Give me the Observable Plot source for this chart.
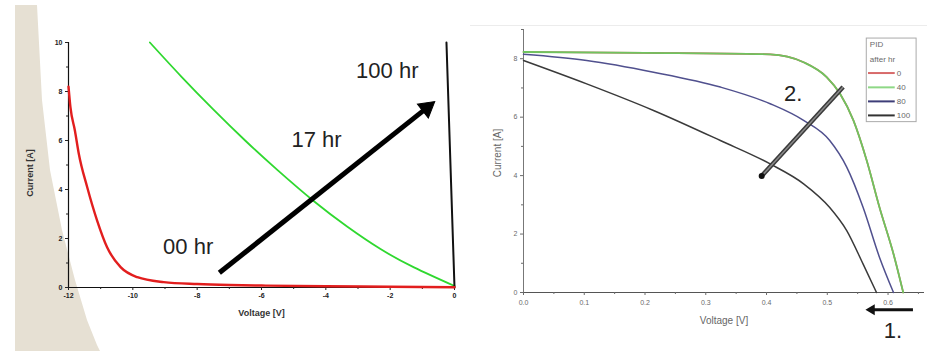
<!DOCTYPE html>
<html>
<head>
<meta charset="utf-8">
<script src="https://cdn.jsdelivr.net/npm/d3@7"></script>
<script src="https://cdn.jsdelivr.net/npm/@observablehq/plot@0.6"></script>
<style>
  html, body { margin: 0; padding: 0; background: #fff; }
  #wrap { position: relative; width: 927px; height: 351px; overflow: hidden; background: #fff; font-family: "Liberation Sans", Arial, sans-serif; }
  #beige { position: absolute; left: 0; top: 0; width: 927px; height: 351px; background: #e6e0d3;
    clip-path: polygon(15px 5px, 37px 5px, 42px 100px, 50px 170px, 62px 230px, 75px 280px, 87px 320px, 97px 345px, 100px 351px, 15px 351px); }
  #topline { position: absolute; left: 470px; top: 25px; width: 457px; height: 1px; background: #ececec; }
  #left { position: absolute; left: 0; top: 0; }
  #right { position: absolute; left: 470px; top: 0; }
  svg { overflow: visible; }
</style>
</head>
<body>
<div id="wrap">
  <div id="beige"></div>
  <div id="topline"></div>
  <div id="left"></div>
  <div id="right"></div>
</div>
<script>
// ---------- Left chart data ----------
const leftVoltageTicks = [-12, -10, -8, -6, -4, -2, 0];
const leftVoltageMinor = [-11, -9, -7, -5, -3, -1];
const leftCurrentTicks = [0, 2, 4, 6, 8, 10];
const leftCurrentMinor = [1, 3, 5, 7, 9];

const curve00hr = [
  {V: -12, I: 8.2}, {V: -11.94, I: 7.36}, {V: -11.8, I: 6.4}, {V: -11.68, I: 5.46},
  {V: -11.42, I: 4.1}, {V: -11.11, I: 2.73}, {V: -10.8, I: 1.64}, {V: -10.38, I: 0.83},
  {V: -9.86, I: 0.42}, {V: -9.04, I: 0.22}, {V: -8, I: 0.14}, {V: -7, I: 0.1},
  {V: -6, I: 0.08}, {V: -4, I: 0.05}, {V: -2, I: 0.03}, {V: 0, I: 0.01}
];
const curve17hr = [
  {V: -9.47, I: 10}, {V: -8.5, I: 8.62}, {V: -7.5, I: 7.27}, {V: -6.5, I: 5.99},
  {V: -5.5, I: 4.79}, {V: -4.37, I: 3.52}, {V: -3.34, I: 2.49}, {V: -2.3, I: 1.57},
  {V: -1.26, I: 0.82}, {V: 0, I: 0.06}
];
const curve100hr = [{V: -0.25, I: 10}, {V: 0, I: 0}];

const leftLabels = [
  {text: "00 hr", V: -8.28, I: 1.64},
  {text: "17 hr", V: -4.29, I: 6.04},
  {text: "100 hr", V: -2.09, I: 8.82}
];
const leftArrow = [{V1: -7.31, I1: 0.6, V2: -0.86, I2: 7.33}];
const leftArrowHead = [{V: -0.86, I: 7.33, angle: 51.5}];

// ---------- Right chart data ----------
const rightVoltageTicks = [0, 0.1, 0.2, 0.3, 0.4, 0.5, 0.6];
const rightVoltageMinor = [0.05, 0.15, 0.25, 0.35, 0.45, 0.55, 0.65];
const rightCurrentTicks = [0, 2, 4, 6, 8];
const rightCurrentMinor = [1, 3, 5, 7, 9];

const pid40 = [
  {V: 0, I: 8.23}, {V: 0.2, I: 8.2}, {V: 0.406, I: 8.15}, {V: 0.461, I: 7.88},
  {V: 0.499, I: 7.37}, {V: 0.521, I: 6.8}, {V: 0.543, I: 5.89}, {V: 0.565, I: 4.51},
  {V: 0.586, I: 2.91}, {V: 0.609, I: 1.32}, {V: 0.625, I: 0}
];
const pid0 = pid40.map(d => ({...d}));
const pid80 = [
  {V: 0, I: 8.15}, {V: 0.104, I: 7.94}, {V: 0.214, I: 7.54}, {V: 0.324, I: 7.03},
  {V: 0.406, I: 6.46}, {V: 0.461, I: 5.89}, {V: 0.504, I: 5.2}, {V: 0.532, I: 4.29},
  {V: 0.559, I: 2.91}, {V: 0.586, I: 1.2}, {V: 0.609, I: 0}
];
const pid100 = [
  {V: 0, I: 7.94}, {V: 0.104, I: 7.14}, {V: 0.214, I: 6.23}, {V: 0.324, I: 5.2},
  {V: 0.406, I: 4.4}, {V: 0.461, I: 3.72}, {V: 0.504, I: 2.91}, {V: 0.532, I: 2.12},
  {V: 0.559, I: 0.97}, {V: 0.581, I: 0}
];

const legendTitle = ["PID", "after hr"];
const legendNames = ["0", "40", "80", "100"];
const legendColors = ["#d86a6a", "#8ed886", "#3e3e78", "#333333"];
const legendBox = {V1: 0.565, V2: 0.647, I1: 5.83, I2: 8.69};
const legendTitleI = [8.49, 7.98];
const legendRowI = [7.51, 7.02, 6.54, 6.06];
const legendLineV = [0.567, 0.611];

const rightLabels = [
  {text: "2.", V: 0.444, I: 6.8},
  {text: "1.", V: 0.608, I: -1.32}
];
const arrow2 = [{V1: 0.526, I1: 7.03, V2: 0.392, I2: 3.99}];
const arrow1 = [{V1: 0.641, I1: -0.59, V2: 0.573, I2: -0.59}];
const arrow1Head = [{V: 0.573, I: -0.59, angle: -90}];

// ---------- Left plot ----------
const leftFont = {fontFamily: "Liberation Sans, Arial, sans-serif", fontWeight: "bold", fill: "#111"};
const left = Plot.plot({
  width: 470, height: 351,
  marginLeft: 68, marginRight: 16, marginTop: 42, marginBottom: 64,
  style: {background: "transparent", fontFamily: "Liberation Sans, Arial, sans-serif", overflow: "visible"},
  x: {domain: [-12, 0], label: null, axis: null},
  y: {domain: [0, 10], label: null, axis: null},
  marks: [
    Plot.ruleY([0], {stroke: "#111", strokeWidth: 1.2}),
    Plot.ruleX([-12], {stroke: "#111", strokeWidth: 1.2}),
    Plot.axisX({ticks: leftVoltageTicks, tickSize: 3, tickPadding: 3, fontSize: 7, fontWeight: "bold", color: "#222", tickFormat: d => d}),
    Plot.axisX({ticks: leftVoltageMinor, tickSize: 2, tickFormat: () => "", color: "#222"}),
    Plot.axisY({ticks: leftCurrentTicks, tickSize: 3, tickPadding: 3, fontSize: 7, fontWeight: "bold", color: "#222", tickFormat: d => d}),
    Plot.axisY({ticks: leftCurrentMinor, tickSize: 2, tickFormat: () => "", color: "#222"}),
    Plot.text(["Voltage [V]"], {text: d => d, frameAnchor: "bottom", textAnchor: "middle", dy: 28, fontSize: 9, ...leftFont, fill: "#333"}),
    Plot.text(["Current [A]"], {text: d => d, frameAnchor: "left", textAnchor: "middle", dx: -38, dy: 8, rotate: -90, fontSize: 9, ...leftFont, fill: "#333"}),
    Plot.line(curve17hr, {x: "V", y: "I", stroke: "#2fd82f", strokeWidth: 1.8, curve: "natural"}),
    Plot.line(curve100hr, {x: "V", y: "I", stroke: "#111", strokeWidth: 2}),
    Plot.line(curve00hr, {x: "V", y: "I", stroke: "#e21e1e", strokeWidth: 2.4, curve: "monotone-x"}),
    Plot.link(leftArrow, {x1: "V1", y1: "I1", x2: "V2", y2: "I2", stroke: "#000", strokeWidth: 5}),
    Plot.dot(leftArrowHead, {x: "V", y: "I", symbol: "triangle", r: 6.5, fill: "#000", stroke: "#000", strokeWidth: 1, rotate: "angle"}),
    Plot.text(leftLabels, {x: "V", y: "I", text: "text", fontSize: 22, fill: "#222", fontFamily: "Liberation Sans, Arial, sans-serif"})
  ]
});
document.getElementById("left").appendChild(left);

// ---------- Right plot ----------
const gray = "#6a6a6a";
const legendRows = legendNames.map((n, i) => ({name: n, color: legendColors[i], I: legendRowI[i], V1: legendLineV[0], V2: legendLineV[1]}));
const legendTitleRows = legendTitle.map((t, i) => ({text: t, I: legendTitleI[i]}));
const right = Plot.plot({
  width: 457, height: 351,
  marginLeft: 53, marginRight: 3, marginTop: 29, marginBottom: 59,
  style: {background: "transparent", fontFamily: "Liberation Sans, Arial, sans-serif", overflow: "visible"},
  x: {domain: [0, 0.66], label: null, axis: null},
  y: {domain: [0, 9], label: null, axis: null},
  marks: [
    Plot.ruleY([0], {stroke: "#555", strokeWidth: 1.2}),
    Plot.ruleX([0], {stroke: "#777", strokeWidth: 1}),
    Plot.axisX({ticks: rightVoltageTicks, tickSize: 3, tickPadding: 5, fontSize: 7, color: gray, tickFormat: d3.format(".1f")}),
    Plot.axisX({ticks: rightVoltageMinor, tickSize: 2, tickFormat: () => "", color: gray}),
    Plot.axisY({ticks: rightCurrentTicks, tickSize: 3, tickPadding: 3, fontSize: 7, color: gray, tickFormat: d => d}),
    Plot.axisY({ticks: rightCurrentMinor, tickSize: 2, tickFormat: () => "", color: gray}),
    Plot.text(["Voltage [V]"], {text: d => d, frameAnchor: "bottom", textAnchor: "middle", dy: 31, fontSize: 10, fill: "#666"}),
    Plot.text(["Current [A]"], {text: d => d, frameAnchor: "left", textAnchor: "middle", dx: -26, dy: -8, rotate: -90, fontSize: 10, fill: "#666"}),
    Plot.line(pid0, {x: "V", y: "I", stroke: "#d05050", strokeWidth: 1.6, curve: "monotone-x"}),
    Plot.line(pid100, {x: "V", y: "I", stroke: "#3a3a3a", strokeWidth: 1.5, curve: "monotone-x"}),
    Plot.line(pid80, {x: "V", y: "I", stroke: "#50508e", strokeWidth: 1.5, curve: "monotone-x"}),
    Plot.line(pid40, {x: "V", y: "I", stroke: "#6fc45f", strokeWidth: 1.8, curve: "monotone-x"}),
    // legend
    Plot.rect([legendBox], {x1: "V1", x2: "V2", y1: "I1", y2: "I2", fill: "#fff", stroke: "#aaa", strokeWidth: 1}),
    Plot.text(legendTitleRows, {x: legendBox.V1 + 0.005, y: "I", text: "text", textAnchor: "start", fontSize: 8, fill: gray}),
    Plot.link(legendRows, {x1: "V1", x2: "V2", y1: "I", y2: "I", stroke: "color", strokeWidth: 2}),
    Plot.text(legendRows, {x: "V2", y: "I", text: "name", textAnchor: "start", dx: 2, fontSize: 8, fill: gray}),
    // arrows
    Plot.link(arrow2, {x1: "V1", y1: "I1", x2: "V2", y2: "I2", stroke: "#3a3a3a", strokeWidth: 4.5}),
    Plot.link(arrow2, {x1: "V1", y1: "I1", x2: "V2", y2: "I2", stroke: "#8a8a8a", strokeWidth: 1.5}),
    Plot.dot(arrow2, {x: "V2", y: "I2", r: 3, fill: "#111"}),
    Plot.link(arrow1, {x1: "V1", y1: "I1", x2: "V2", y2: "I2", stroke: "#111", strokeWidth: 3}),
    Plot.dot(arrow1Head, {x: "V", y: "I", symbol: "triangle", r: 4, fill: "#111", rotate: "angle"}),
    Plot.text(rightLabels, {x: "V", y: "I", text: "text", fontSize: 22, fill: "#222", clip: false})
  ]
});
document.getElementById("right").appendChild(right);
</script>
</body>
</html>
